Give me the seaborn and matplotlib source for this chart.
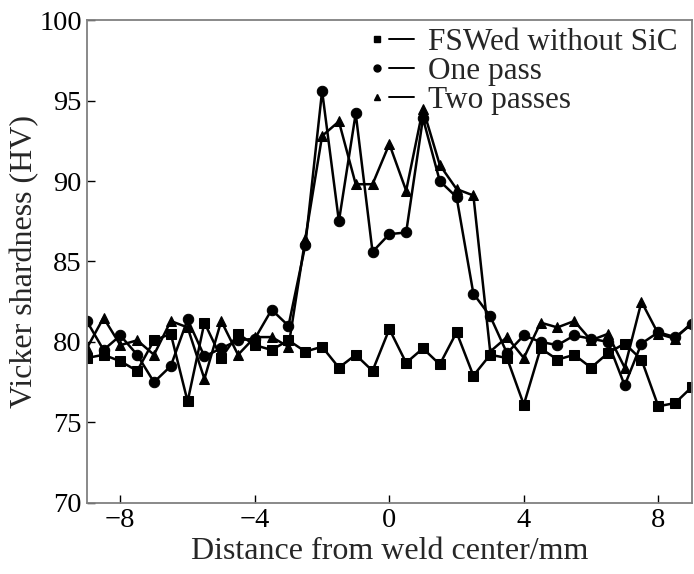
import numpy as np
import pandas as pd
import matplotlib
matplotlib.use("Agg")
import matplotlib.pyplot as plt
from matplotlib.lines import Line2D
from matplotlib.legend_handler import HandlerTuple
import seaborn as sns

# distance from weld center, every 0.5 mm
distance = [-9.0, -8.5, -8.0, -7.5, -7.0, -6.5, -6.0, -5.5, -5.0, -4.5,
            -4.0, -3.5, -3.0, -2.5, -2.0, -1.5, -1.0, -0.5, 0.0, 0.5,
            1.0, 1.5, 2.0, 2.5, 3.0, 3.5, 4.0, 4.5, 5.0, 5.5,
            6.0, 6.5, 7.0, 7.5, 8.0, 8.5, 9.0]

fsw_no_sic = [79.0, 79.2, 78.8, 78.2, 80.1, 80.5, 76.3, 81.2, 79.0, 80.5,
              79.8, 79.5, 80.1, 79.4, 79.7, 78.4, 79.2, 78.2, 80.8, 78.7,
              79.6, 78.6, 80.6, 77.9, 79.2, 79.0, 76.1, 79.6, 78.9, 79.2,
              78.4, 79.3, 79.9, 78.9, 76.0, 76.2, 77.2]

one_pass = [81.3, 79.5, 80.4, 79.2, 77.5, 78.5, 81.4, 79.1, 79.6, 80.1,
            80.2, 82.0, 81.0, 86.0, 95.6, 87.5, 94.2, 85.6, 86.7, 86.8,
            93.9, 90.0, 89.0, 83.0, 81.6, 79.3, 80.4, 80.0, 79.8, 80.4,
            80.2, 80.0, 77.3, 79.9, 80.6, 80.3, 81.1]

two_passes = [79.6, 81.5, 79.8, 80.1, 79.2, 81.3, 80.9, 77.7, 81.3, 79.2,
              80.3, 80.3, 79.7, 86.4, 92.8, 93.7, 89.8, 89.8, 92.3, 89.4,
              94.5, 91.0, 89.5, 89.1, 79.4, 80.3, 79.0, 81.2, 80.9, 81.3,
              80.1, 80.5, 78.4, 82.5, 80.5, 80.2, 81.2]

labels = ["FSWed without SiC", "One pass", "Two passes"]
marker_map = {"FSWed without SiC": "s", "One pass": "o", "Two passes": "^"}

df = pd.concat([
    pd.DataFrame({"x": distance, "hv": vals, "series": name})
    for name, vals in zip(labels, [fsw_no_sic, one_pass, two_passes])
])

sns.set_style("ticks")
plt.rcParams["font.family"] = ["Liberation Serif", "DejaVu Serif"]

fig = plt.figure(figsize=(6.94, 5.74), dpi=100)
ax = fig.add_axes([0.125, 0.124, 0.872, 0.841])

sns.lineplot(data=df, x="x", y="hv", hue="series", style="series",
             palette=["black"] * 3, markers=marker_map, dashes=False,
             markersize=7.5, linewidth=1.8, markeredgecolor="black",
             legend=False, ax=ax, sort=False)

ax.set_xlim(-9, 9)
ax.set_ylim(70, 100)
ax.set_xticks([-8, -4, 0, 4, 8])
ax.set_xticklabels(["\u22128", "\u22124", "0", "4", "8"])
ax.set_yticks([70, 75, 80, 85, 90, 95, 100])
ax.tick_params(direction="in", length=6, width=1, labelsize=20.5, colors="black")
for sp in ax.spines.values():
    sp.set_color("#808080")
    sp.set_linewidth(1.3)

ax.set_xlabel("Distance from weld center/mm", fontsize=23, labelpad=3)
ax.set_ylabel("Vicker shardness (HV)", fontsize=23, labelpad=0)

# legend handles: marker on the left, short line on the right
handles = []
for name in labels:
    mk = Line2D([], [], color="black", marker=marker_map[name], markersize=5,
                linestyle="none")
    ln = Line2D([], [], color="black", linewidth=1.4)
    handles.append((mk, ln))
ax.legend(handles, labels, handler_map={tuple: HandlerTuple(ndivide=None, pad=0)},
          loc="upper right", bbox_to_anchor=(1.0, 1.013), frameon=False,
          fontsize=22.5, handlelength=1.6, handletextpad=0.45, labelspacing=0.0,
          borderaxespad=0.05)

fig.savefig("out.png", dpi=100)
